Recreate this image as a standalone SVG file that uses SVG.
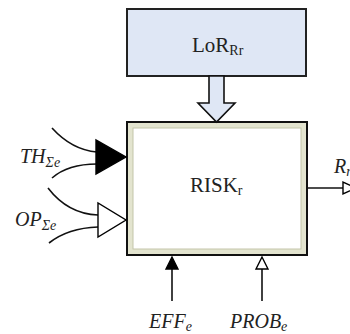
<svg xmlns="http://www.w3.org/2000/svg" width="350" height="334" viewBox="0 0 350 334">
<style>
.lbl{font-family:"Liberation Serif","Times New Roman",serif;fill:#222;}
.it{font-style:italic;font-size:20px;}
.sub{font-size:14px;}
.wire{fill:none;stroke:#111;stroke-width:1.6;}
.solid{fill:#000;stroke:#000;stroke-width:1.4;stroke-linejoin:miter;}
.hollow{fill:#fff;stroke:#000;stroke-width:1.4;stroke-linejoin:miter;}
</style>
<rect width="350" height="334" fill="#fff"/>
<g id="lor">
<rect x="127" y="9" width="179" height="67" fill="#dfe7f5" stroke="#222" stroke-width="2"/>
<text class="lbl" x="192" y="52" font-size="21">LoR<tspan class="sub" dy="3">Rr</tspan></text>
</g>
<g id="risk">
<rect x="127" y="122" width="180" height="133" fill="#e3e4cf" stroke="#111" stroke-width="2"/>
<rect x="133" y="128" width="168" height="121" fill="#fff" stroke="#c4c5aa" stroke-width="1"/>
<text class="lbl" x="190" y="192" font-size="21">RISK<tspan class="sub" dy="3">r</tspan></text>
</g>
<g id="connectors">
<polygon points="209,76 224,76 224,103 235,103 216.5,122 198,103 209,103" fill="#dfe7f5" stroke="#111" stroke-width="1.6"/>
<path class="wire" d="M52,128 Q72,150 97,152"/>
<path class="wire" d="M52,178 Q68,164 97,164"/>
<polygon class="solid" points="96,140 96,174 126,157"/>
<path class="wire" d="M48,188 Q68,214 98,215"/>
<path class="wire" d="M49,243 Q68,228 98,227"/>
<polygon class="hollow" points="98,203 98,237 126,220"/>
<line class="wire" x1="307" y1="188" x2="343" y2="188"/>
<polygon class="hollow" points="343,182 343,194 356,188"/>
<line class="wire" x1="172" y1="301" x2="172" y2="269"/>
<polygon class="solid" points="166,269 178,269 172,257"/>
<line class="wire" x1="262" y1="301" x2="262" y2="269"/>
<polygon class="hollow" points="256,269 268,269 262,257"/>
</g>
<g id="labels">
<text class="lbl it" x="20" y="163">TH<tspan class="sub" dy="4">Σe</tspan></text>
<text class="lbl it" x="15" y="226">OP<tspan class="sub" dy="4">Σe</tspan></text>
<text class="lbl it" x="334" y="173">R<tspan class="sub" dy="3">r</tspan></text>
<text class="lbl it" x="149" y="328" font-size="19">EFF<tspan class="sub" dy="3">e</tspan></text>
<text class="lbl it" x="230" y="328" font-size="19">PROB<tspan class="sub" dy="3">e</tspan></text>
</g>
</svg>
